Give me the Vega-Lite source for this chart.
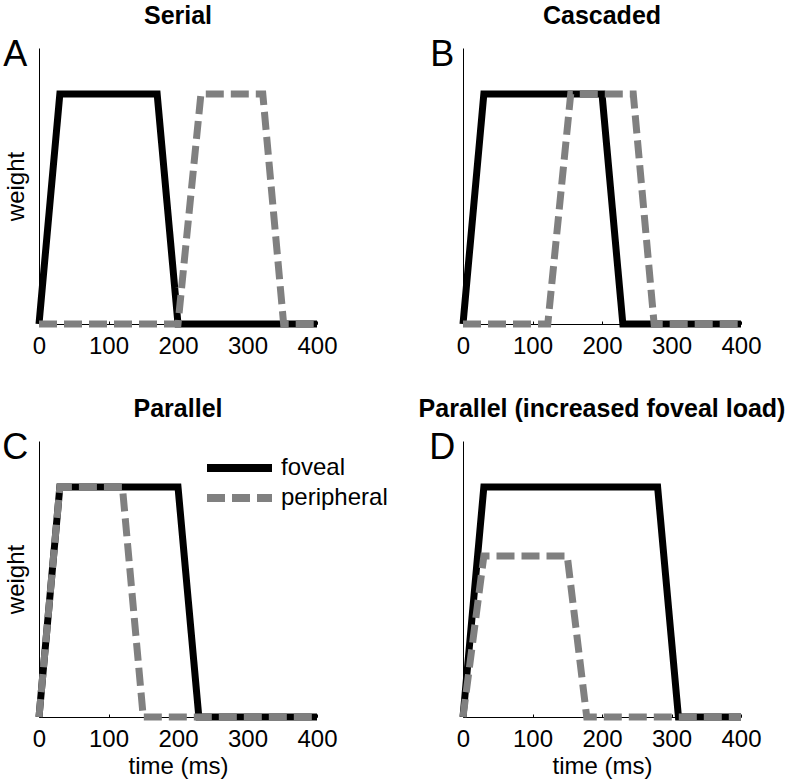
{
  "$schema": "https://vega.github.io/schema/vega-lite/v6.json",
  "padding": {"left": 2, "top": 4, "right": 4, "bottom": 4},
  "background": "white",
  "datasets": {
    "curves": [
      {"panel": "A", "series": "foveal", "t": 0, "w": 0},
      {"panel": "A", "series": "foveal", "t": 30, "w": 1},
      {"panel": "A", "series": "foveal", "t": 170, "w": 1},
      {"panel": "A", "series": "foveal", "t": 200, "w": 0},
      {"panel": "A", "series": "foveal", "t": 400, "w": 0},
      {"panel": "A", "series": "peripheral", "t": 0, "w": 0},
      {"panel": "A", "series": "peripheral", "t": 200, "w": 0},
      {"panel": "A", "series": "peripheral", "t": 233, "w": 1},
      {"panel": "A", "series": "peripheral", "t": 322, "w": 1},
      {"panel": "A", "series": "peripheral", "t": 352, "w": 0},
      {"panel": "A", "series": "peripheral", "t": 400, "w": 0},
      {"panel": "B", "series": "foveal", "t": 0, "w": 0},
      {"panel": "B", "series": "foveal", "t": 30, "w": 1},
      {"panel": "B", "series": "foveal", "t": 200, "w": 1},
      {"panel": "B", "series": "foveal", "t": 230, "w": 0},
      {"panel": "B", "series": "foveal", "t": 400, "w": 0},
      {"panel": "B", "series": "peripheral", "t": 0, "w": 0},
      {"panel": "B", "series": "peripheral", "t": 122, "w": 0},
      {"panel": "B", "series": "peripheral", "t": 155, "w": 1},
      {"panel": "B", "series": "peripheral", "t": 245, "w": 1},
      {"panel": "B", "series": "peripheral", "t": 275, "w": 0},
      {"panel": "B", "series": "peripheral", "t": 400, "w": 0},
      {"panel": "C", "series": "foveal", "t": 0, "w": 0},
      {"panel": "C", "series": "foveal", "t": 30, "w": 1},
      {"panel": "C", "series": "foveal", "t": 200, "w": 1},
      {"panel": "C", "series": "foveal", "t": 230, "w": 0},
      {"panel": "C", "series": "foveal", "t": 400, "w": 0},
      {"panel": "C", "series": "peripheral", "t": 0, "w": 0},
      {"panel": "C", "series": "peripheral", "t": 30, "w": 1},
      {"panel": "C", "series": "peripheral", "t": 120, "w": 1},
      {"panel": "C", "series": "peripheral", "t": 150, "w": 0},
      {"panel": "C", "series": "peripheral", "t": 400, "w": 0},
      {"panel": "D", "series": "foveal", "t": 0, "w": 0},
      {"panel": "D", "series": "foveal", "t": 30, "w": 1},
      {"panel": "D", "series": "foveal", "t": 280, "w": 1},
      {"panel": "D", "series": "foveal", "t": 310, "w": 0},
      {"panel": "D", "series": "foveal", "t": 400, "w": 0},
      {"panel": "D", "series": "peripheral", "t": 0, "w": 0},
      {"panel": "D", "series": "peripheral", "t": 30, "w": 0.7},
      {"panel": "D", "series": "peripheral", "t": 150, "w": 0.7},
      {"panel": "D", "series": "peripheral", "t": 178, "w": 0},
      {"panel": "D", "series": "peripheral", "t": 400, "w": 0}
    ],
    "letters": [
      {"panel": "A", "letter": "A"},
      {"panel": "B", "letter": "B"},
      {"panel": "C", "letter": "C"},
      {"panel": "D", "letter": "D"}
    ]
  },
  "columns": 2,
  "bounds": "flush",
  "spacing": {"row": 117, "column": 146},
  "concat": [
    {
      "title": {"text": "Serial"},
      "width": 278, "height": 276,
      "layer": [
        {
          "data": {"name": "curves"},
          "transform": [{"filter": "datum.panel === 'A'"}],
          "mark": {"type": "line", "strokeWidth": 7, "clip": false},
          "encoding": {
            "x": {"field": "t", "type": "quantitative", "scale": {"domain": [0, 400], "nice": false}, "axis": {"values": [0, 100, 200, 300, 400], "title": null}},
            "y": {"field": "w", "type": "quantitative", "scale": {"domain": [0, 1.2], "nice": false}, "axis": {"title": "weight", "ticks": false, "labels": false}},
            "color": {"field": "series", "type": "nominal", "scale": {"domain": ["foveal", "peripheral"], "range": ["#000000", "#808080"]}, "legend": null},
            "strokeDash": {"field": "series", "type": "nominal", "scale": {"domain": ["foveal", "peripheral"], "range": [[1, 0], [18, 7]]}, "legend": null}
          }
        },
        {
          "data": {"name": "letters"},
          "transform": [{"filter": "datum.panel === 'A'"}],
          "mark": {"type": "text", "fontSize": 36, "font": "Liberation Sans", "align": "center", "baseline": "alphabetic", "color": "black"},
          "encoding": {
            "x": {"datum": -34, "type": "quantitative"},
            "y": {"datum": 1.12, "type": "quantitative"},
            "text": {"field": "letter"}
          }
        }
      ]
    },
    {
      "title": {"text": "Cascaded"},
      "width": 278, "height": 276,
      "layer": [
        {
          "data": {"name": "curves"},
          "transform": [{"filter": "datum.panel === 'B'"}],
          "mark": {"type": "line", "strokeWidth": 7, "clip": false},
          "encoding": {
            "x": {"field": "t", "type": "quantitative", "scale": {"domain": [0, 400], "nice": false}, "axis": {"values": [0, 100, 200, 300, 400], "title": null}},
            "y": {"field": "w", "type": "quantitative", "scale": {"domain": [0, 1.2], "nice": false}, "axis": {"title": null, "ticks": false, "labels": false}},
            "color": {"field": "series", "type": "nominal", "scale": {"domain": ["foveal", "peripheral"], "range": ["#000000", "#808080"]}, "legend": null},
            "strokeDash": {"field": "series", "type": "nominal", "scale": {"domain": ["foveal", "peripheral"], "range": [[1, 0], [18, 7]]}, "legend": null}
          }
        },
        {
          "data": {"name": "letters"},
          "transform": [{"filter": "datum.panel === 'B'"}],
          "mark": {"type": "text", "fontSize": 36, "font": "Liberation Sans", "align": "center", "baseline": "alphabetic", "color": "black"},
          "encoding": {
            "x": {"datum": -30, "type": "quantitative"},
            "y": {"datum": 1.12, "type": "quantitative"},
            "text": {"field": "letter"}
          }
        }
      ]
    },
    {
      "title": {"text": "Parallel"},
      "width": 278, "height": 276,
      "layer": [
        {
          "data": {"name": "curves"},
          "transform": [{"filter": "datum.panel === 'C'"}],
          "mark": {"type": "line", "strokeWidth": 7, "clip": false},
          "encoding": {
            "x": {"field": "t", "type": "quantitative", "scale": {"domain": [0, 400], "nice": false}, "axis": {"values": [0, 100, 200, 300, 400], "title": "time (ms)"}},
            "y": {"field": "w", "type": "quantitative", "scale": {"domain": [0, 1.2], "nice": false}, "axis": {"title": "weight", "ticks": false, "labels": false}},
            "color": {"field": "series", "type": "nominal", "scale": {"domain": ["foveal", "peripheral"], "range": ["#000000", "#808080"]},
              "legend": {"orient": "none", "legendX": 161, "legendY": 15, "title": null, "symbolType": "M-1,0H12", "symbolSize": 100, "symbolStrokeWidth": 8, "labelOffset": 57, "rowPadding": -2, "labelFontSize": 24, "labelFont": "Liberation Sans", "labelColor": "black"}},
            "strokeDash": {"field": "series", "type": "nominal", "scale": {"domain": ["foveal", "peripheral"], "range": [[1, 0], [18, 7]]},
              "legend": {"orient": "none", "legendX": 161, "legendY": 15, "title": null, "symbolType": "M-1,0H12", "symbolSize": 100, "symbolStrokeWidth": 8, "labelOffset": 57, "rowPadding": -2, "labelFontSize": 24, "labelFont": "Liberation Sans", "labelColor": "black"}}
          }
        },
        {
          "data": {"name": "letters"},
          "transform": [{"filter": "datum.panel === 'C'"}],
          "mark": {"type": "text", "fontSize": 36, "font": "Liberation Sans", "align": "center", "baseline": "alphabetic", "color": "black"},
          "encoding": {
            "x": {"datum": -34, "type": "quantitative"},
            "y": {"datum": 1.12, "type": "quantitative"},
            "text": {"field": "letter"}
          }
        }
      ]
    },
    {
      "title": {"text": "Parallel (increased foveal load)"},
      "width": 278, "height": 276,
      "layer": [
        {
          "data": {"name": "curves"},
          "transform": [{"filter": "datum.panel === 'D'"}],
          "mark": {"type": "line", "strokeWidth": 7, "clip": false},
          "encoding": {
            "x": {"field": "t", "type": "quantitative", "scale": {"domain": [0, 400], "nice": false}, "axis": {"values": [0, 100, 200, 300, 400], "title": "time (ms)"}},
            "y": {"field": "w", "type": "quantitative", "scale": {"domain": [0, 1.2], "nice": false}, "axis": {"title": null, "ticks": false, "labels": false}},
            "color": {"field": "series", "type": "nominal", "scale": {"domain": ["foveal", "peripheral"], "range": ["#000000", "#808080"]}, "legend": null},
            "strokeDash": {"field": "series", "type": "nominal", "scale": {"domain": ["foveal", "peripheral"], "range": [[1, 0], [18, 7]]}, "legend": null}
          }
        },
        {
          "data": {"name": "letters"},
          "transform": [{"filter": "datum.panel === 'D'"}],
          "mark": {"type": "text", "fontSize": 36, "font": "Liberation Sans", "align": "center", "baseline": "alphabetic", "color": "black"},
          "encoding": {
            "x": {"datum": -30, "type": "quantitative"},
            "y": {"datum": 1.12, "type": "quantitative"},
            "text": {"field": "letter"}
          }
        }
      ]
    }
  ],
  "resolve": {
    "scale": {"color": "independent", "strokeDash": "independent"},
    "legend": {"color": "independent", "strokeDash": "independent"}
  },
  "config": {
    "view": {"stroke": null},
    "font": "Liberation Sans",
    "title": {"font": "Liberation Sans", "fontSize": 25, "fontWeight": "bold", "color": "black", "anchor": "middle", "frame": "group", "offset": 8},
    "axis": {
      "domainColor": "black", "domainWidth": 1, "grid": false,
      "labelFont": "Liberation Sans", "labelFontSize": 24, "labelColor": "black", "labelFlush": false, "labelOverlap": false,
      "titleFont": "Liberation Sans", "titleFontSize": 24, "titleFontWeight": "normal", "titleColor": "black",
      "tickColor": "black", "tickSize": -3, "labelPadding": 13, "titlePadding": 3
    },
    "axisY": {"titlePadding": 11},
    "legend": {"labelFont": "Liberation Sans", "labelFontSize": 24, "labelColor": "black"}
  }
}
